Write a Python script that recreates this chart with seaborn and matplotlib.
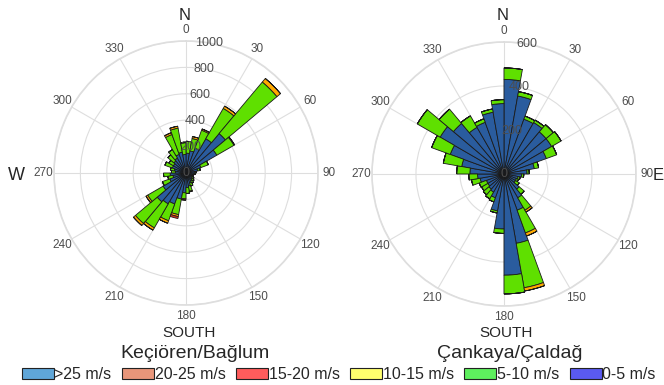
import numpy as np
import matplotlib
matplotlib.use("Agg")
import matplotlib.pyplot as plt
import seaborn as sns
from matplotlib.patches import Patch

# wind direction bins (start of each 10 degree sector)
directions = list(range(0, 360, 10))

# Keçiören/Bağlum - counts per speed class
kec_0_5 = [150, 170, 200, 300, 390, 270, 120, 90, 70, 60, 50, 50,
           55, 60, 70, 80, 100, 110, 150, 200, 250, 270, 285, 200,
           130, 100, 120, 80, 90, 110, 110, 120, 130, 150, 160, 140]
kec_5_10 = [90, 95, 145, 265, 510, 150, 60, 20, 10, 10, 10, 10,
            15, 20, 20, 25, 40, 45, 45, 120, 135, 210, 215, 135,
            60, 40, 50, 30, 30, 60, 40, 60, 75, 160, 185, 90]
kec_10_15 = [0, 15, 10, 20, 35, 5, 0, 0, 0, 0, 0, 0,
             0, 0, 0, 0, 5, 0, 10, 15, 20, 20, 20, 15,
             0, 0, 0, 0, 0, 0, 0, 0, 0, 15, 15, 0]
kec_15_20 = [0, 0, 0, 0, 0, 0, 0, 0, 0, 0, 0, 0,
             0, 0, 0, 0, 0, 0, 0, 15, 0, 0, 0, 0,
             0, 0, 0, 0, 0, 0, 0, 0, 0, 0, 0, 0]

# Çankaya/Çaldağ
cank_0_5 = [430, 360, 265, 270, 250, 250, 205, 140, 105, 80, 65, 60,
            60, 90, 125, 175, 320, 460, 250, 170, 115, 95, 90, 85,
            85, 110, 120, 155, 195, 260, 335, 300, 245, 250, 285, 320]
cank_5_10 = [52, 20, 15, 13, 43, 50, 50, 20, 10, 10, 10, 10,
             20, 30, 65, 110, 205, 85, 20, 10, 20, 35, 33, 33,
             35, 40, 40, 60, 85, 90, 120, 85, 60, 17, 15, 18]
cank_10_15 = [0, 0, 0, 0, 0, 0, 0, 0, 0, 0, 0, 0,
              0, 0, 10, 15, 15, 0, 0, 0, 0, 0, 0, 0,
              0, 0, 0, 0, 0, 0, 0, 0, 0, 0, 0, 0]
cank_15_20 = [0] * 36

angle_labels = [str(a) for a in range(0, 360, 30)]
legend_labels = [">25 m/s", "20-25 m/s", "15-20 m/s", "10-15 m/s", "5-10 m/s", "0-5 m/s"]
legend_colors = ["#5fa6d8", "#e8967a", "#ff5c5c", "#ffff6e", "#5ef05e", "#5a5af0"]

bar_colors = ["#2a5c9e", "#5fe000", "#ffaa00", "#e0301e"]

sns.set_theme(style="white")
plt.rcParams["font.family"] = ["Liberation Sans", "DejaVu Sans"]

fig = plt.figure(figsize=(6.64, 3.85), dpi=100)


def wind_rose(ax, series, rmax, rticks):
    theta = np.deg2rad(directions)
    width = np.deg2rad(10)
    bottom = np.zeros(len(directions))
    for vals, col in zip(series, bar_colors):
        vals = np.array(vals, dtype=float)
        ax.bar(theta, vals, width=width, bottom=bottom, align="edge",
               color=col, edgecolor="#1a1a1a", linewidth=0.6, zorder=3)
        bottom = bottom + vals
    ax.set_axisbelow(True)
    ax.set_theta_zero_location("N")
    ax.set_theta_direction(-1)
    ax.set_thetagrids(range(0, 360, 30), angle_labels)
    ax.set_ylim(0, rmax)
    ax.set_yticks(rticks)
    ax.set_yticklabels([])
    # radial labels drawn on top of the bars
    for t in rticks:
        ax.text(np.deg2rad(10), t, str(t), ha="center", va="center",
                fontsize=9, color="#4d4d4d", zorder=10)
    ax.tick_params(axis="x", pad=-5, labelsize=8.5, labelcolor="#4d4d4d")
    ax.grid(True, color="#dedede", linewidth=0.8)
    ax.spines["polar"].set_color("#dedede")
    ax.set_facecolor("white")


ax1 = fig.add_axes([0.0813, 0.2078, 0.3976, 0.6857], projection="polar")
wind_rose(ax1, [kec_0_5, kec_5_10, kec_10_15, kec_15_20], 1000, [0, 200, 400, 600, 800, 1000])

ax2 = fig.add_axes([0.5602, 0.2052, 0.3976, 0.6857], projection="polar")
wind_rose(ax2, [cank_0_5, cank_5_10, cank_10_15, cank_15_20], 600, [0, 200, 400, 600])

# compass and station labels
fig.text(185 / 664, 1 - 15 / 385, "N", ha="center", va="center", fontsize=12)
fig.text(16 / 664, 1 - 176 / 385, "W", ha="center", va="center", fontsize=13)
fig.text(189 / 664, 1 - 333 / 385, "SOUTH", ha="center", va="center", fontsize=11)
fig.text(195 / 664, 1 - 354 / 385, "Keçiören/Bağlum", ha="center", va="center", fontsize=14)

fig.text(503 / 664, 1 - 15 / 385, "N", ha="center", va="center", fontsize=12)
fig.text(658 / 664, 1 - 176 / 385, "E", ha="center", va="center", fontsize=12)
fig.text(506 / 664, 1 - 333 / 385, "SOUTH", ha="center", va="center", fontsize=11)
fig.text(510 / 664, 1 - 354 / 385, "Çankaya/Çaldağ", ha="center", va="center", fontsize=14)

handles = [Patch(facecolor=c, edgecolor="#222222", linewidth=0.8) for c in legend_colors]
fig.legend(handles, legend_labels, loc="lower center", bbox_to_anchor=(0.51, -0.03),
           ncol=6, frameon=False, fontsize=11.5, handlelength=2.0, handleheight=0.65,
           handletextpad=0.05, columnspacing=0.65)

fig.savefig("out.png", dpi=100)
